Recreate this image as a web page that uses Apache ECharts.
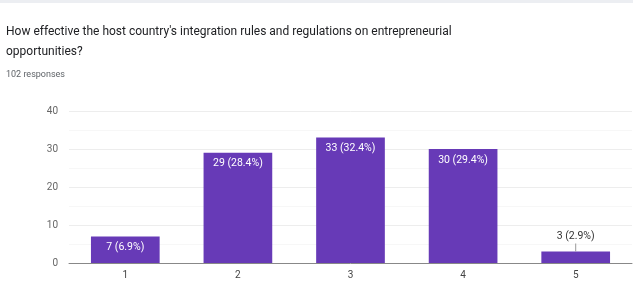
<!DOCTYPE html>
<html><head><meta charset="utf-8">
<script src="https://cdn.jsdelivr.net/npm/echarts@6/dist/echarts.min.js"></script>
<style>html,body{margin:0;padding:0;background:#fff;}#c{width:633px;height:287px;}</style>
</head><body><div id="c"></div>
<script>
const categories = ['1', '2', '3', '4', '5'];
const counts = [7, 29, 33, 30, 3];
const percents = ['6.9%', '28.4%', '32.4%', '29.4%', '2.9%'];
const yTicks = [0, 10, 20, 30, 40];
const titleLines = ["How effective the host country's integration rules and regulations on entrepreneurial", 'opportunities?'];
const subtitle = '102 responses';

const purple = '#673ab7';
const chart = echarts.init(document.getElementById('c'));
chart.setOption({
  animation: false,
  backgroundColor: '#fff',
  graphic: [
    { type: 'rect', shape: { x: 0, y: 0, width: 633, height: 3 }, style: { fill: '#eceef2' } }
  ],
  title: [
    { text: titleLines.join('\n'), left: 1, top: 17, textStyle: { fontFamily: 'Roboto', fontSize: 12, fontWeight: 'normal', color: '#202124', lineHeight: 20 } },
    { text: subtitle, left: 1, top: 65, textStyle: { fontFamily: 'Roboto', fontSize: 9, fontWeight: 'normal', color: '#5f6368' } }
  ],
  grid: { left: 69, right: 1, top: 111, bottom: 24, containLabel: false },
  xAxis: {
    type: 'category', data: categories,
    axisLine: { lineStyle: { color: '#888', width: 1 } },
    axisTick: { show: false },
    axisLabel: { color: '#444', fontFamily: 'Roboto', fontSize: 10, margin: 7 }
  },
  yAxis: {
    type: 'value', min: yTicks[0], max: yTicks[yTicks.length - 1], interval: 10,
    axisLine: { show: false }, axisTick: { show: false },
    axisLabel: { color: '#666', fontFamily: 'Roboto', fontSize: 10, margin: 11 },
    splitLine: { lineStyle: { color: '#ededed' } },
    minorTick: { show: false, splitNumber: 2 },
    minorSplitLine: { show: true, lineStyle: { color: '#f7f7f7' } }
  },
  series: [{
    type: 'bar',
    barCategoryGap: '39%',
    data: counts.map((v, i) => {
      const item = { value: v };
      if (v < 5) {
        item.label = {
          position: 'top', distance: 0, color: '#333',
          formatter: p => p.value + ' (' + percents[p.dataIndex] + ')\n{l|}',
          rich: { l: { backgroundColor: '#999', width: 1, height: 8, lineHeight: 8, align: 'center' } }
        };
      }
      return item;
    }),
    itemStyle: { color: purple },
    label: {
      show: true, position: 'insideTop', distance: 4,
      color: '#fff', fontFamily: 'Roboto', fontSize: 10.5, lineHeight: 14,
      formatter: p => p.value + ' (' + percents[p.dataIndex] + ')'
    }
  }]
});
</script></body></html>
